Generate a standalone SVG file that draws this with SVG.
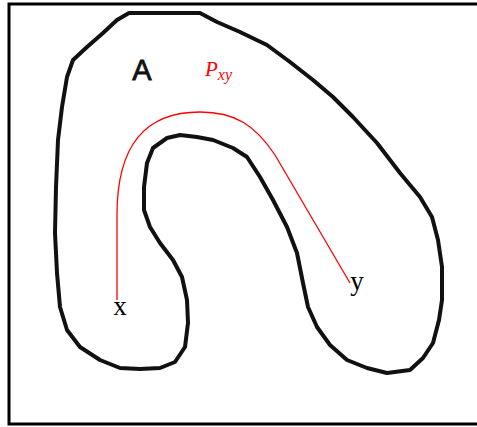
<svg xmlns="http://www.w3.org/2000/svg" width="477" height="427" viewBox="0 0 477 427">
<style>
.frame{fill:#fff;stroke:#000;stroke-width:3}
.blob{fill:none;stroke:#111;stroke-width:4;stroke-linejoin:round;stroke-linecap:round}
.path{fill:none;stroke:#f00;stroke-width:1.3}
.lbl{font-family:"Liberation Serif",serif;fill:#000}
.red{font-family:"Liberation Serif",serif;font-style:italic;fill:#f00}
</style>
<rect class="frame" x="9" y="4" width="472" height="420"/>
<g id="regionA">
<path class="blob" d="M129,13 L200,13 L217,22 L240,32 L267,45 L290,62 L313,80 L333,97 L353,117 L377,143 L400,173 L420,197 L432,217 L438,240 L442,267 L442,300 L439,320 L433,343 L423,358 L410,370 L387,373 L367,368 L347,360 L330,345 L317,327 L308,307 L303,283 L297,253 L287,227 L273,200 L260,177 L247,157 L233,148 L213,140 L197,137 L180,135 L167,138 L153,148 L147,163 L144,187 L144,210 L150,227 L160,243 L173,260 L182,277 L187,300 L188,323 L185,347 L175,362 L160,368 L140,369 L120,368 L100,360 L80,347 L67,330 L60,307 L57,273 L55,233 L56,187 L58,140 L62,107 L67,77 L73,60 L87,47 L103,33 L117,20 Z"/>
<text x="142" y="80" font-family="Liberation Sans, Arial, sans-serif" font-size="29" text-anchor="middle" fill="#111" stroke="#111" stroke-width="0.8">A</text>
</g>
<g id="connectors">
<path class="path" d="M117,300 L117,215 C117,145 145,112 200,112 C235,112 255,125 275,155 L350,283"/>
</g>
<g id="label-pxy">
<text class="red" x="205" y="76" font-size="21">P<tspan font-size="16" dy="4">xy</tspan></text>
</g>
<g id="node-x">
<text class="lbl" x="120" y="315" font-size="27" text-anchor="middle">x</text>
</g>
<g id="node-y">
<text class="lbl" x="357" y="290" font-size="27" text-anchor="middle">y</text>
</g>
</svg>
